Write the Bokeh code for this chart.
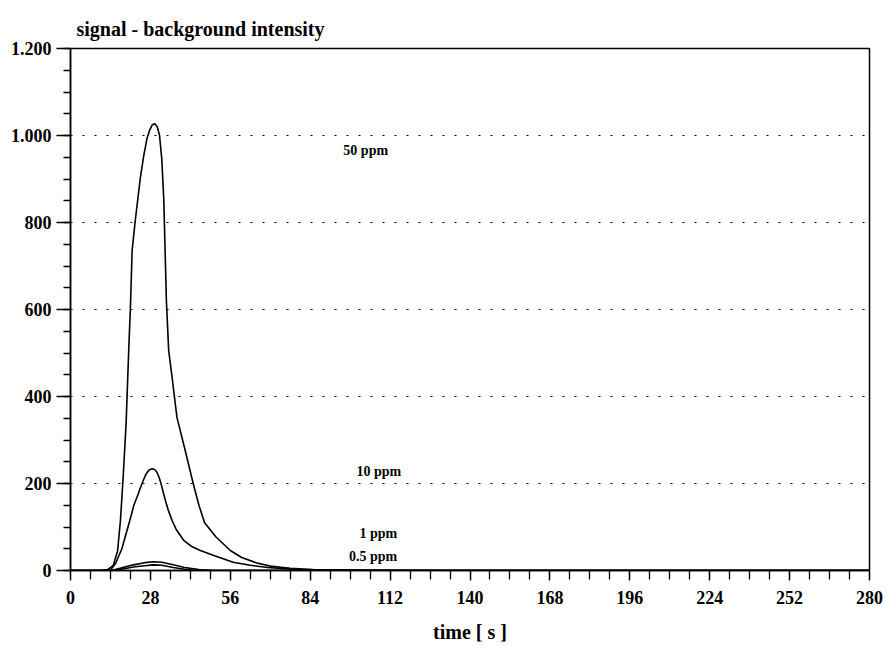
from bokeh.plotting import figure
from bokeh.models import FixedTicker, Range1d
from bokeh.core.properties import value
from bokeh.embed import file_html
from bokeh.resources import INLINE

# ---- data ----
t50 = [0, 10, 13, 15, 16.5, 17.5, 18.5, 19.5, 20.4, 21, 21.6, 22.7, 24.5, 25.7, 26.8, 27.8, 28.6,
       29.5, 30.4, 31.2, 32, 32.7, 33.6, 34.4, 35.6, 37.3, 40.2, 43, 45, 47, 51, 56, 60, 65,
       70, 77, 85, 100, 130, 280]
v50 = [0, 0, 2, 12, 45, 115, 220, 340, 506, 605, 736, 805, 904, 955, 993, 1013, 1024,
       1027, 1020, 1000, 945, 851, 621, 506, 444, 352, 276, 200, 150, 110, 77, 46, 30, 18,
       10, 5, 2, 1, 0, 0]

t10 = [0, 12, 14, 15.8, 18, 19.8, 21, 22.2, 23.5, 24.5, 25.5, 26.5, 27.5, 28.6, 29.5, 30.3, 31,
       31.7, 32.5, 33.3, 34.2, 35.6, 37, 39.7, 42.5, 45.5, 50, 57, 63, 69, 80, 95, 280]
v10 = [0, 0, 1, 16, 50, 92, 120, 150, 172, 190, 207, 222, 231, 234, 232, 226, 215,
       200, 180, 160, 140, 115, 95, 69, 55, 46, 35, 19, 12, 7, 2, 0, 0]

t1 = [0, 10, 13, 15, 18, 22, 26, 29, 32, 36, 40, 45, 50, 280]
v1 = [0, 0, -2, 1, 6, 13, 18, 20, 19, 13, 7, 2, 0, 0]

t05 = [0, 12, 15, 18, 22, 26, 29, 32, 36, 40, 44, 280]
v05 = [0, 0, 0, 3, 8, 11, 13, 12, 7, 3, 0, 0]

series_labels = ["50 ppm", "10 ppm", "1 ppm", "0.5 ppm"]
label_t = [111.3, 115.9, 114.5, 114.5]
label_v = [965, 228, 85, 32]

x_ticks = [0, 28, 56, 84, 112, 140, 168, 196, 224, 252, 280]
x_minor = list(range(0, 281, 7))
y_ticks = [0, 200, 400, 600, 800, 1000, 1200]
y_minor = list(range(0, 1201, 50))
y_tick_labels = {0: "0", 200: "200", 400: "400", 600: "600", 800: "800", 1000: "1.000", 1200: "1.200"}
grid_levels = [200, 400, 600, 800, 1000]

FONT = "Liberation Serif"

p = figure(width=887, height=646, output_backend="svg", toolbar_location=None,
           x_range=Range1d(0, 280), y_range=Range1d(0, 1200),
           min_border_left=70, min_border_right=18, min_border_top=48, min_border_bottom=76)

p.title.text = "signal - background intensity"
p.title.text_font = FONT
p.title.text_font_size = "20px"
p.title.text_font_style = "bold"
p.title.text_color = "black"
p.title.align = "left"
p.title.offset = 6
p.title.standoff = 18

p.outline_line_color = "black"
p.outline_line_width = 1.5
p.outline_line_alpha = 1

# axes
p.xaxis.ticker = FixedTicker(ticks=x_ticks, minor_ticks=x_minor)
p.yaxis.ticker = FixedTicker(ticks=y_ticks, minor_ticks=y_minor)
p.yaxis.major_label_overrides = y_tick_labels
for ax in (p.xaxis, p.yaxis):
    ax.axis_line_color = "black"
    ax.axis_line_width = 1.5
    ax.major_tick_line_color = "black"
    ax.minor_tick_line_color = "black"
    ax.major_tick_line_width = 1.3
    ax.minor_tick_line_width = 1.3
    ax.major_tick_in = 0
    ax.minor_tick_in = 0
    ax.major_label_text_font = FONT
    ax.major_label_text_font_size = "18px"
    ax.major_label_text_font_style = "bold"
    ax.major_label_text_color = "black"
p.xaxis.major_tick_out = 10
p.xaxis.minor_tick_out = 9
p.xaxis.major_label_standoff = 10
p.yaxis.major_tick_out = 14
p.yaxis.minor_tick_out = 7
p.yaxis.major_label_standoff = 5

p.xaxis.axis_label = "time [ s ]"
p.xaxis.axis_label_text_font = FONT
p.xaxis.axis_label_text_font_size = "20px"
p.xaxis.axis_label_text_font_style = "bold"
p.xaxis.axis_label_text_color = "black"
p.xaxis.axis_label_standoff = 14

p.xgrid.grid_line_color = None
p.ygrid.ticker = FixedTicker(ticks=grid_levels)
p.ygrid.grid_line_color = "black"
p.ygrid.grid_line_dash = "2 10"
p.ygrid.grid_line_width = 1.2

# curves
for tt, vv in [(t50, v50), (t10, v10), (t1, v1), (t05, v05)]:
    p.line(tt, vv, line_color="black", line_width=1.6, line_join="round")

p.text(x=label_t, y=label_v, text=series_labels, text_align="right", text_baseline="middle",
       text_font=value(FONT), text_font_size="14px", text_font_style="bold", text_color="black")

open("out.html", "w").write(file_html(p, INLINE))
